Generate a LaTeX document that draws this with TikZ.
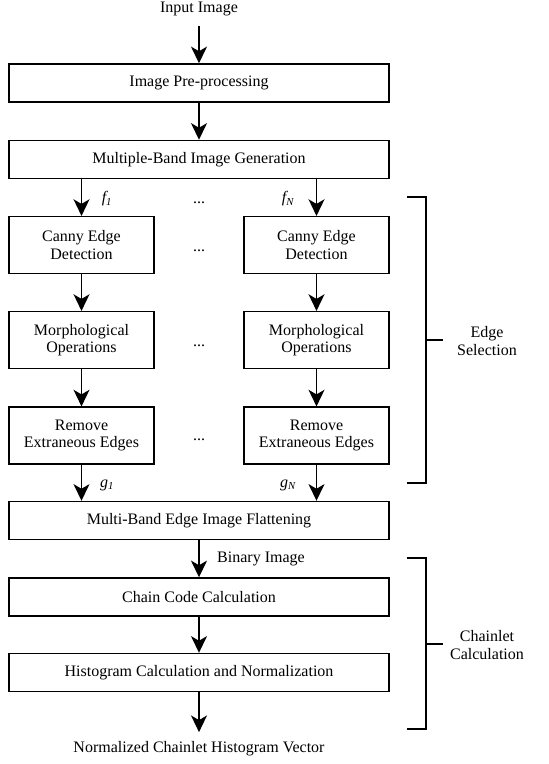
\documentclass[tikz,border=0pt]{standalone}
\usepackage{fontspec}
\setmainfont{Liberation Serif}
\usetikzlibrary{arrows.meta}
\begin{document}
\begin{tikzpicture}[x=0.75pt,y=-0.75pt,
  font=\fontsize{12}{13}\selectfont,
  wide/.style={draw, line width=1.1pt, minimum width=285pt, minimum height=28.5pt, inner sep=0pt},
  small/.style={draw, line width=1.1pt, minimum width=108.75pt, minimum height=42.5pt, inner sep=0pt, align=center},
  arr/.style={line width=1.1pt, -{Stealth[length=12.5pt, width=12pt, inset=3.5pt]}},
  brk/.style={line width=1.1pt},
  lbl/.style={inner sep=0pt}]
\useasboundingbox (0,0) rectangle (549,764);

\node[lbl] (in) at (199,9) {Input Image};
\node[wide] (b1) at (199,83) {Image Pre-processing};
\node[wide] (b2) at (199,159.5) {Multiple-Band Image Generation};

\node[small] (c1) at (81.5,245) {Canny Edge\\Detection};
\node[small] (c2) at (316.5,245) {Canny Edge\\Detection};
\node[small] (m1) at (81.5,340) {Morphological\\Operations};
\node[small] (m2) at (316.5,340) {Morphological\\Operations};
\node[small] (r1) at (81.5,435.5) {Remove\\Extraneous Edges};
\node[small] (r2) at (316.5,435.5) {Remove\\Extraneous Edges};

\node[wide] (fl) at (199,520.5) {Multi-Band Edge Image Flattening};
\node[wide] (ch) at (199,597) {Chain Code Calculation};
\node[wide] (hi) at (199,672.5) {Histogram Calculation and Normalization};
\node[lbl] (out) at (199,749) {Normalized Chainlet Histogram Vector};

% arrows
\draw[arr, shorten <=7pt] (in.south) -- (b1.north);
\draw[arr] (b1) -- (b2);
\draw[arr] (b2.south -| c1) -- (c1);
\draw[arr] (b2.south -| c2) -- (c2);
\draw[arr] (c1) -- (m1);
\draw[arr] (c2) -- (m2);
\draw[arr] (m1) -- (r1);
\draw[arr] (m2) -- (r2);
\draw[arr] (r1) -- (r1 |- fl.north);
\draw[arr] (r2) -- (r2 |- fl.north);
\draw[arr] (fl) -- (ch);
\draw[arr] (ch) -- (hi);
\draw[arr, shorten >=7pt] (hi.south) -- (out.north);

% labels
\node[lbl] (f1) at (107,199) {\itshape f\textsubscript{1}};
\node[lbl] (fN) at (288,199) {\itshape f\textsubscript{N}};
\node[lbl] (g1) at (107,485) {\itshape g\textsubscript{1}};
\node[lbl] (gN) at (288,485) {\itshape g\textsubscript{N}};
\node[lbl] (bi) at (261,559) {Binary Image};

\node[lbl, anchor=base] (d0) at (199,203) {...};
\node[lbl, anchor=base] (d1) at (199,251) {...};
\node[lbl, anchor=base] (d2) at (199,346) {...};
\node[lbl, anchor=base] (d3) at (199,440) {...};

% brackets
\draw[brk] (407,197) -- (426,197) -- (426,483) -- (407,483);
\draw[brk] (426,340) -- (443,340);
\node[lbl, align=center] (es) at (487,341) {Edge\\Selection};
\draw[brk] (407,558) -- (426,558) -- (426,729) -- (407,729);
\draw[brk] (426,644) -- (443,644);
\node[lbl, align=center] (cc) at (487,645) {Chainlet\\Calculation};
\end{tikzpicture}
\end{document}
